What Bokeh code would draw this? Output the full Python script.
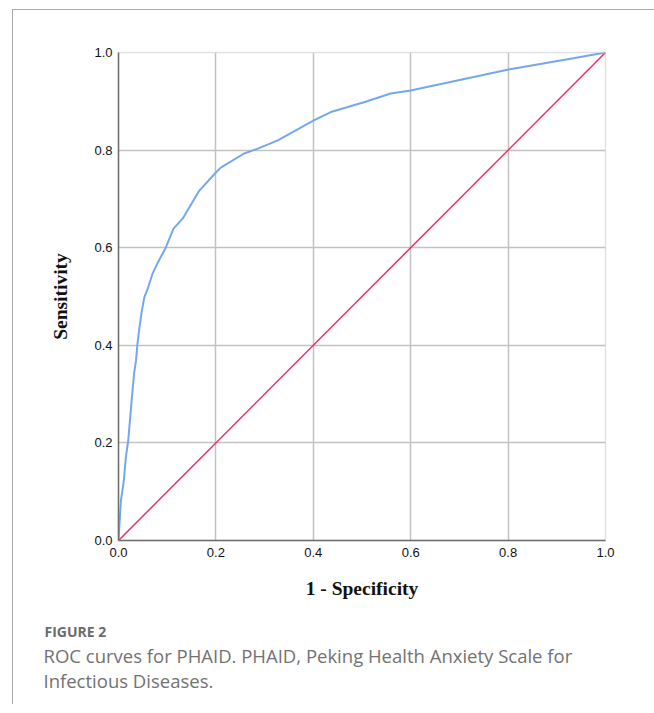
from bokeh.plotting import figure
from bokeh.models import Range1d, FixedTicker, Title
from bokeh.embed import file_html
from bokeh.resources import INLINE

# ROC curve (1 - specificity, sensitivity)
fpr = [0.0, 0.005, 0.011, 0.015, 0.020, 0.027, 0.032, 0.036, 0.039, 0.043,
       0.048, 0.053, 0.060, 0.070, 0.080, 0.097, 0.113, 0.132, 0.166, 0.200,
       0.210, 0.258, 0.286, 0.327, 0.401, 0.436, 0.504, 0.559, 0.600, 0.801,
       0.934, 1.0]
tpr = [0.0, 0.082, 0.123, 0.170, 0.205, 0.287, 0.342, 0.369, 0.404, 0.436,
       0.471, 0.498, 0.516, 0.547, 0.568, 0.600, 0.639, 0.660, 0.717, 0.754,
       0.764, 0.793, 0.803, 0.820, 0.861, 0.878, 0.898, 0.916, 0.922, 0.965,
       0.988, 1.0]
ref_x = [0.0, 1.0]
ref_y = [0.0, 1.0]
ticks = [0.0, 0.2, 0.4, 0.6, 0.8, 1.0]
grid_ticks = [0.2, 0.4, 0.6, 0.8]
x_title = "1 - Specificity"
y_title = "Sensitivity"
caption_head = "FIGURE 2"
caption_lines = ["ROC curves for PHAID. PHAID, Peking Health Anxiety Scale for",
                 "Infectious Diseases."]

p = figure(width=642, height=694, output_backend="svg", toolbar_location=None,
           x_range=Range1d(0, 1), y_range=Range1d(0, 1),
           frame_width=487, frame_height=488,
           min_border_left=105, min_border_top=42, min_border_right=50,
           min_border_bottom=164)
p.margin = (9, 0, 0, 12)
p.styles = {"border-top": "1px solid #a8a8a8", "border-left": "1px solid #a8a8a8"}
p.background_fill_color = "white"
p.border_fill_color = "white"
p.outline_line_color = "#e2e2e2"
p.outline_line_width = 1.5

for ax in (p.xaxis[0], p.yaxis[0]):
    ax.ticker = FixedTicker(ticks=ticks)
    ax.major_tick_in = 0
    ax.major_tick_out = 0
    ax.minor_tick_in = 0
    ax.minor_tick_out = 0
    ax.axis_line_color = "#6e6e6e"
    ax.axis_line_width = 1.5
    ax.major_label_text_font = "Liberation Sans"
    ax.major_label_text_font_size = "13px"
    ax.major_label_text_color = "#111111"
    ax.major_label_standoff = 7
    ax.axis_label_text_font = "Liberation Serif"
    ax.axis_label_text_font_style = "bold"
    ax.axis_label_text_font_size = "19.5px"
    ax.axis_label_text_color = "#111111"
p.yaxis[0].major_label_standoff = 6
p.xaxis[0].major_label_overrides = {t: f"{t:.1f}" for t in ticks}
p.yaxis[0].major_label_overrides = {t: f"{t:.1f}" for t in ticks}
p.xaxis.axis_label = x_title
p.yaxis.axis_label = y_title
p.xaxis.axis_label_standoff = 18
p.yaxis.axis_label_standoff = 20

p.xgrid.ticker = FixedTicker(ticks=grid_ticks)
p.ygrid.ticker = FixedTicker(ticks=grid_ticks)
p.grid.grid_line_color = "#c2c2c2"
p.grid.grid_line_width = 1.5

p.line(ref_x, ref_y, line_color="#e8335e", line_width=1.5)
p.line(fpr, tpr, line_color="#74a8ee", line_width=2)

p.add_layout(Title(text=caption_head, align="left", offset=-74, standoff=36,
                   text_font="Open Sans", text_font_style="bold",
                   text_font_size="14px", text_color="#6b6b6b"), "below")
p.add_layout(Title(text="\n".join(caption_lines), align="left", offset=-75,
                   standoff=-36, text_line_height=1.0,
                   text_font="Open Sans", text_font_style="normal",
                   text_font_size="18.5px", text_color="#727272"), "below")

open("out.html", "w").write(file_html(p, INLINE))
